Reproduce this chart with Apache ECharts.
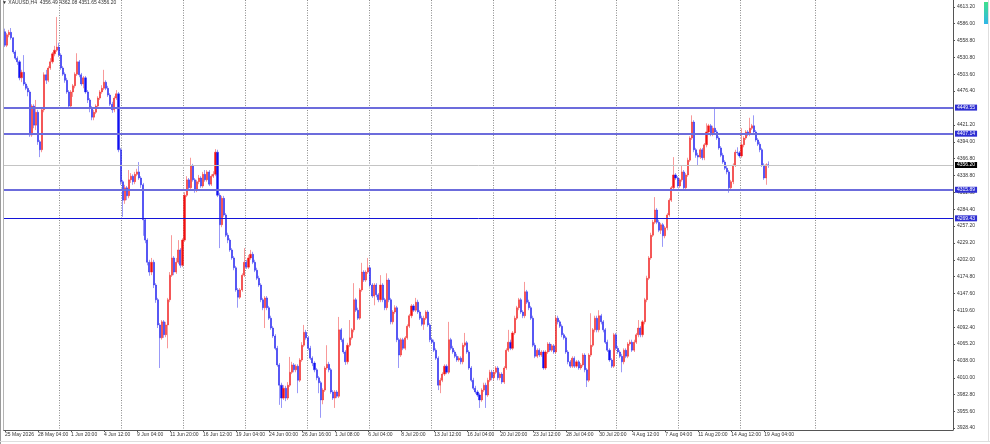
<!DOCTYPE html>
<html>
<head>
<meta charset="utf-8">
<script src="https://cdn.jsdelivr.net/npm/echarts@6/dist/echarts.min.js"></script>
<style>
  html, body { margin: 0; padding: 0; background: #fff; }
  #chart { width: 990px; height: 444px; }
</style>
</head>
<body>
<div id="chart"></div>
<script>
// XAUUSD H4
const symbolName = 'XAUUSD,H4'
const firstOpen = 4573

const closes = [
  4551, 4568, 4572, 4563, 4540, 4530, 4524, 4498, 4507, 4488,
  4481, 4475, 4405, 4452, 4421, 4442, 4394, 4381, 4446, 4503,
  4494, 4514, 4524, 4537, 4543, 4548, 4535, 4514, 4504, 4494,
  4475, 4452, 4475, 4485, 4504, 4524, 4503, 4488, 4498, 4475,
  4462, 4449, 4434, 4442, 4452, 4465, 4475, 4481, 4491, 4481,
  4470, 4455, 4446, 4465, 4472, 4381, 4329, 4299, 4319, 4306,
  4332, 4338, 4329, 4341, 4345, 4335, 4324, 4267, 4234, 4198,
  4182, 4198, 4161, 4137, 4096, 4075, 4101, 4080, 4096, 4137,
  4177, 4205, 4182, 4198, 4218, 4193, 4234, 4307, 4332, 4319,
  4355, 4332, 4316, 4329, 4335, 4322, 4341, 4332, 4345, 4325,
  4338, 4341, 4377, 4307, 4259, 4302, 4275, 4242, 4234, 4218,
  4205, 4189, 4153, 4141, 4153, 4177, 4198, 4190, 4205, 4211,
  4198, 4185, 4172, 4161, 4137, 4124, 4140, 4124, 4107, 4091,
  4078, 4058, 4031, 3998, 3977, 3993, 3977, 3998, 4019, 4031,
  4023, 4029, 4006, 4039, 4063, 4084, 4075, 4058, 4042, 4034,
  4023, 4010, 4002, 3974, 3990, 4026, 4032, 4023, 3987, 3977,
  3987, 3980, 4088, 4072, 4052, 4036, 4063, 4075, 4088, 4137,
  4120, 4107, 4153, 4182, 4169, 4182, 4189, 4161, 4143, 4161,
  4145, 4137, 4161, 4137, 4124, 4169, 4137, 4101, 4117, 4124,
  4072, 4047, 4072, 4058, 4075, 4094, 4111, 4127, 4120, 4133,
  4117, 4107, 4097, 4107, 4117, 4096, 4072, 4068, 4055, 4042,
  3998, 4006, 4016, 4029, 4019, 4072, 4058, 4052, 4045, 4039,
  4042, 4036, 4063, 4067, 4052, 4026, 4006, 3993, 3987, 3982,
  3974, 3990, 3998, 3982, 4006, 4019, 4010, 4019, 4026, 4010,
  4016, 4003, 4026, 4055, 4068, 4058, 4083, 4107, 4124, 4137,
  4117, 4111, 4150, 4133, 4124, 4107, 4063, 4045, 4055, 4047,
  4052, 4026, 4052, 4065, 4055, 4062, 4052, 4107, 4101, 4094,
  4080, 4075, 4052, 4036, 4029, 4042, 4029, 4036, 4026, 4031,
  4047, 4023, 4006, 4047, 4063, 4088, 4107, 4088, 4111, 4101,
  4088, 4068, 4055, 4039, 4029, 4080, 4058, 4052, 4045, 4036,
  4055, 4045, 4065, 4068, 4055, 4068, 4080, 4091, 4080, 4101,
  4137, 4172, 4205, 4242, 4263, 4283, 4263, 4250, 4259, 4241,
  4254, 4275, 4299, 4319, 4340, 4335, 4322, 4332, 4345, 4319,
  4340, 4364, 4400, 4426, 4381, 4372, 4369, 4381, 4368, 4389,
  4410, 4420, 4407, 4416, 4410, 4400, 4384, 4372, 4361, 4351,
  4345, 4319, 4329, 4356, 4377, 4376, 4371, 4389, 4400, 4410,
  4407, 4416, 4420, 4410, 4397, 4390, 4381, 4356, 4335, 4356.49,
  4356.20
]

const highs = [
  4578, 4571, 4576, 4579, 4564, 4543, 4533, 4527, 4511, 4535,
  4491, 4485, 4478, 4455, 4455, 4462, 4446, 4397, 4449, 4507,
  4511, 4517, 4530, 4540, 4550, 4597, 4555, 4538, 4517, 4507,
  4498, 4478, 4478, 4488, 4507, 4538, 4527, 4506, 4501, 4501,
  4478, 4465, 4452, 4446, 4455, 4468, 4478, 4486, 4511, 4494,
  4485, 4473, 4459, 4468, 4478, 4475, 4384, 4332, 4324, 4322,
  4348, 4343, 4341, 4345, 4350, 4361, 4338, 4327, 4270, 4237,
  4202, 4205, 4202, 4164, 4140, 4099, 4104, 4104, 4101, 4140,
  4182, 4242, 4208, 4205, 4234, 4221, 4237, 4312, 4338, 4335,
  4368, 4358, 4335, 4332, 4340, 4338, 4345, 4348, 4348, 4348,
  4341, 4346, 4382, 4381, 4311, 4306, 4306, 4278, 4246, 4237,
  4221, 4208, 4192, 4156, 4156, 4180, 4221, 4202, 4210, 4218,
  4215, 4202, 4189, 4176, 4164, 4140, 4143, 4143, 4127, 4111,
  4094, 4081, 4062, 4034, 4002, 3998, 3997, 4003, 4044, 4036,
  4034, 4032, 4032, 4042, 4068, 4096, 4088, 4078, 4062, 4045,
  4037, 4026, 4013, 4005, 3993, 4029, 4063, 4036, 4026, 3990,
  3990, 3990, 4109, 4091, 4075, 4055, 4067, 4104, 4091, 4164,
  4140, 4124, 4156, 4197, 4185, 4185, 4205, 4192, 4164, 4164,
  4164, 4148, 4177, 4164, 4140, 4180, 4172, 4140, 4120, 4128,
  4127, 4075, 4075, 4075, 4078, 4097, 4114, 4130, 4130, 4140,
  4137, 4120, 4111, 4111, 4120, 4120, 4099, 4075, 4072, 4058,
  4045, 4010, 4019, 4032, 4032, 4101, 4075, 4062, 4055, 4049,
  4045, 4045, 4067, 4083, 4070, 4055, 4029, 4010, 3997, 3990,
  3985, 3993, 4002, 4002, 4010, 4023, 4023, 4023, 4029, 4029,
  4019, 4019, 4029, 4058, 4088, 4072, 4086, 4111, 4127, 4140,
  4140, 4120, 4166, 4153, 4137, 4127, 4111, 4067, 4058, 4058,
  4055, 4055, 4055, 4068, 4068, 4065, 4065, 4111, 4111, 4104,
  4097, 4083, 4078, 4055, 4039, 4045, 4045, 4039, 4039, 4034,
  4050, 4050, 4026, 4050, 4115, 4091, 4111, 4111, 4120, 4114,
  4104, 4091, 4072, 4058, 4042, 4083, 4083, 4062, 4055, 4049,
  4058, 4058, 4068, 4072, 4072, 4072, 4083, 4104, 4094, 4104,
  4140, 4176, 4208, 4246, 4267, 4304, 4286, 4267, 4262, 4262,
  4257, 4278, 4302, 4322, 4369, 4343, 4338, 4335, 4356, 4348,
  4343, 4368, 4403, 4437, 4429, 4384, 4376, 4384, 4384, 4392,
  4424, 4423, 4423, 4420, 4449, 4413, 4403, 4387, 4376, 4364,
  4355, 4348, 4332, 4359, 4381, 4385, 4379, 4416, 4403, 4413,
  4413, 4433, 4423, 4437, 4413, 4400, 4394, 4384, 4359, 4359,
  4362.08
]

const lows = [
  4548, 4548, 4564, 4560, 4537, 4527, 4519, 4494, 4491, 4485,
  4478, 4468, 4402, 4402, 4416, 4413, 4389, 4369, 4377, 4442,
  4488, 4491, 4511, 4521, 4533, 4540, 4532, 4511, 4501, 4490,
  4472, 4449, 4449, 4467, 4481, 4501, 4499, 4485, 4481, 4472,
  4457, 4442, 4429, 4429, 4439, 4449, 4462, 4472, 4478, 4478,
  4467, 4452, 4441, 4442, 4462, 4377, 4324, 4272, 4293, 4299,
  4302, 4327, 4324, 4325, 4338, 4332, 4319, 4241, 4229, 4193,
  4176, 4177, 4156, 4132, 4091, 4026, 4072, 4075, 4076, 4058,
  4133, 4174, 4177, 4179, 4195, 4189, 4190, 4231, 4304, 4316,
  4316, 4329, 4311, 4312, 4325, 4319, 4319, 4329, 4329, 4322,
  4322, 4335, 4338, 4304, 4221, 4255, 4272, 4239, 4229, 4215,
  4202, 4185, 4150, 4124, 4138, 4150, 4174, 4187, 4187, 4202,
  4195, 4182, 4169, 4158, 4133, 4120, 4091, 4120, 4104, 4088,
  4075, 4055, 4028, 3966, 3961, 3974, 3972, 3974, 3995, 4016,
  4019, 4019, 3985, 4003, 4036, 4060, 4072, 4055, 4039, 4029,
  4019, 4006, 3985, 3945, 3967, 3987, 4023, 4019, 3984, 3974,
  3961, 3977, 3977, 4068, 4049, 4031, 4032, 4060, 4072, 4084,
  4117, 4104, 4104, 4150, 4166, 4166, 4179, 4158, 4140, 4128,
  4141, 4133, 4133, 4133, 4120, 4120, 4133, 4097, 4097, 4114,
  4068, 4026, 4044, 4055, 4055, 4072, 4091, 4107, 4117, 4117,
  4114, 4104, 4094, 4088, 4104, 4093, 4068, 4065, 4052, 4039,
  3990, 3985, 4003, 4013, 4016, 4016, 4055, 4049, 4042, 4036,
  4036, 4032, 4032, 4060, 4049, 4023, 4003, 3990, 3984, 3979,
  3961, 3971, 3987, 3961, 3979, 4003, 4006, 4006, 4016, 4006,
  4006, 4000, 4000, 4023, 4052, 4055, 4055, 4080, 4104, 4120,
  4114, 4107, 4107, 4130, 4120, 4104, 4060, 4042, 4042, 4044,
  4044, 4023, 4023, 4049, 4052, 4052, 4049, 4049, 4097, 4091,
  4076, 4072, 4049, 4032, 4026, 4026, 4026, 4026, 4023, 4023,
  4028, 4019, 3995, 4003, 4044, 4060, 4084, 4084, 4084, 4097,
  4084, 4065, 4052, 4036, 4026, 4026, 4055, 4049, 4042, 4019,
  4032, 4042, 4042, 4062, 4052, 4052, 4065, 4076, 4076, 4076,
  4097, 4133, 4169, 4202, 4239, 4260, 4260, 4247, 4244, 4223,
  4237, 4250, 4272, 4296, 4316, 4332, 4319, 4319, 4329, 4316,
  4316, 4337, 4361, 4397, 4377, 4368, 4356, 4366, 4364, 4364,
  4385, 4407, 4403, 4403, 4407, 4397, 4381, 4369, 4358, 4348,
  4341, 4311, 4316, 4325, 4353, 4372, 4368, 4368, 4385, 4397,
  4403, 4403, 4413, 4407, 4394, 4387, 4377, 4353, 4332, 4324,
  4351.65
]

// one label every 16 bars, starting at the first bar
const tickLabels = [
  '25 May 2026', '28 May 04:00', '1 Jun 20:00', '4 Jun 12:00', '9 Jun 04:00',
  '11 Jun 20:00', '16 Jun 12:00', '19 Jun 04:00', '24 Jun 00:00', '26 Jun 16:00',
  '1 Jul 08:00', '6 Jul 04:00', '8 Jul 20:00', '13 Jul 12:00', '16 Jul 04:00',
  '20 Jul 20:00', '23 Jul 12:00', '28 Jul 04:00', '30 Jul 20:00', '4 Aug 12:00',
  '7 Aug 04:00', '11 Aug 20:00', '14 Aug 12:00', '19 Aug 04:00'
]
const labelStep = 16
// bars where a new week starts (vertical dotted grid)
const weekStarts = [27, 57, 87, 117, 147, 177, 207, 237, 267, 297, 327, 357, 393]
// bar slots on screen, incl. the empty shift area on the right
const slotCount = 460

const priceTicks = [
  4613.20, 4586.00, 4558.80, 4530.80, 4503.60, 4476.40, 4421.20, 4394.00,
  4366.80, 4338.80, 4311.60, 4284.40, 4257.20, 4229.20, 4202.00, 4174.80,
  4147.60, 4119.60, 4092.40, 4065.20, 4038.00, 4010.00, 3982.80, 3955.60, 3928.40
]
const levels = [4449.55, 4407.14, 4315.89, 4269.43]

const candles = closes.map((c, i) => {
  const o = i === 0 ? firstOpen : closes[i - 1]
  return [o, c, lows[i], highs[i]]
})
const slots = []
for (let i = 0; i < slotCount; i++) slots.push(String(i))

const n = closes.length
const lastOhlc = [closes[n - 2], highs[n - 1], lows[n - 1], closes[n - 1]]
const current = closes[n - 1]

const isLabelSlot = (i) => i % labelStep === 0 && i / labelStep < tickLabels.length

const levelLines = levels.map((v, i) => ({
  yAxis: v,
  lineStyle: { color: i < 3 ? '#6c6cdc' : '#1414d8', width: i < 3 ? 2 : 1, type: 'solid' },
  label: { backgroundColor: '#2e2ed2' }
}))
levelLines.push({
  yAxis: current,
  lineStyle: { color: '#c4c4c4', width: 1, type: 'solid' },
  label: { backgroundColor: '#000' }
})

const chart = echarts.init(document.getElementById('chart'))
chart.setOption({
  animation: false,
  backgroundColor: '#fff',
  textStyle: { fontFamily: 'Liberation Sans, DejaVu Sans, sans-serif' },
  title: {
    text: '\u25BC ' + symbolName + '  ' + lastOhlc.map(v => v.toFixed(2)).join(' '),
    left: 2, top: 0, padding: 0,
    textStyle: { fontSize: 5, fontWeight: 'normal', color: '#333' }
  },
  grid: { left: 4, right: 37, top: 0, bottom: 14 },
  xAxis: {
    type: 'category',
    data: slots,
    boundaryGap: true,
    axisLine: { lineStyle: { color: '#555', width: 1 } },
    axisTick: { show: true, alignWithLabel: true, interval: isLabelSlot, length: 2, lineStyle: { color: '#555' } },
    axisLabel: {
      interval: isLabelSlot,
      formatter: (v, i) => tickLabels[i / labelStep],
      align: 'left', fontSize: 5, color: '#333', margin: 2
    },
    splitLine: {
      show: true,
      interval: (i) => weekStarts.includes(i),
      lineStyle: { color: '#8a8a8a', width: 1, type: [1, 1.5] }
    }
  },
  yAxis: {
    type: 'value',
    position: 'right',
    min: 3925.1,
    max: 4624.6,
    axisLine: { show: true, lineStyle: { color: '#555', width: 1 } },
    axisTick: { show: true, length: 2, customValues: priceTicks, lineStyle: { color: '#555' } },
    axisLabel: { customValues: priceTicks, formatter: v => v.toFixed(2), fontSize: 5, color: '#333', margin: 4 },
    splitLine: { show: false }
  },
  series: [{
    type: 'candlestick',
    data: candles,
    barWidth: 1.6,
    itemStyle: {
      color: '#f21010',
      color0: '#1010f2',
      borderColor: 'rgba(240,30,30,0.65)',
      borderColor0: 'rgba(30,30,240,0.65)',
      borderColorDoji: 'rgba(30,30,240,0.65)',
      borderWidth: 0.7
    },
    markLine: {
      silent: true,
      symbol: ['none', 'none'],
      label: {
        show: true, position: 'end', distance: 2,
        formatter: (p) => p.value.toFixed(2),
        color: '#fff', fontSize: 5, padding: [1, 2, 0, 2]
      },
      data: levelLines
    }
  }],
  graphic: [
    { type: 'rect', shape: { x: 0, y: 0, width: 1, height: 444 }, style: { fill: '#9a9a9a' } },
    { type: 'rect', shape: { x: 3, y: 0, width: 1, height: 431 }, style: { fill: '#b4b4b4' } },
    { type: 'rect', shape: { x: 0, y: 441, width: 990, height: 1 }, style: { fill: '#dedede' } },
    { type: 'rect', shape: { x: 988, y: 0, width: 1, height: 442 }, style: { fill: '#dedede' } },
    {
      type: 'rect', shape: { x: 984, y: 2, width: 4, height: 22 },
      style: {
        fill: new echarts.graphic.LinearGradient(0, 0, 0, 1, [
          { offset: 0, color: '#3fe08c' }, { offset: 1, color: '#30b6e8' }
        ])
      }
    }
  ]
})
</script>
</body>
</html>
